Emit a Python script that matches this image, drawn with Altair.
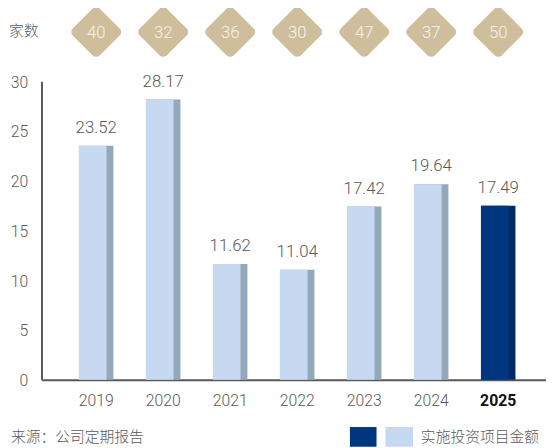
import altair as alt
import pandas as pd

years = ["2019", "2020", "2021", "2022", "2023", "2024", "2025"]
amounts = [23.52, 28.17, 11.62, 11.04, 17.42, 19.64, 17.49]
counts = [40, 32, 36, 30, 47, 37, 50]
kinds = ["past", "past", "past", "past", "past", "past", "current"]

count_title = ["家数"]
source_note = ["来源：公司定期报告"]
legend_label = ["实施投资项目金额"]

df = pd.DataFrame({"year": years, "amount": amounts, "count": counts, "kind": kinds})

GRAY = "#595959"
CJK = "Noto Sans CJK SC"
LAT = "Roboto"
LW = 300

xscale = alt.Scale(domain=years, paddingInner=0, paddingOuter=0.2647, align=0.597)
x = alt.X("year:N", scale=xscale, sort=years,
          axis=alt.Axis(title=None, domain=True, domainColor=GRAY, domainWidth=2,
                        ticks=False, labelAngle=0, labelPadding=13, labelFontSize=16,
                        labelFont=LAT,
                        labelColor={"condition": {"test": "datum.value == '2025'", "value": "#111111"}, "value": GRAY},
                        labelFontWeight={"condition": {"test": "datum.value == '2025'", "value": "bold"}, "value": LW}))
y = alt.Y("amount:Q", scale=alt.Scale(domain=[0, 30], nice=False),
          axis=alt.Axis(title=None, values=[0, 5, 10, 15, 20, 25, 30], domain=True,
                        domainColor=GRAY, domainWidth=2, ticks=False, grid=False,
                        labelFontSize=16, labelColor=GRAY, labelPadding=14, labelOffset=1,
                        labelFont=LAT, labelFontWeight=LW))

base = alt.Chart(df)
is_current = "datum.kind == 'current'"

dark_bar = base.mark_bar(width=35).encode(
    x=x, y=y,
    color=alt.condition(is_current, alt.value("#002A62"), alt.value("#94A8BA")),
)
light_bar = base.mark_bar(width=28, xOffset=-3.5).encode(
    x=x, y=y,
    color=alt.condition(is_current, alt.value("#003580"), alt.value("#C6D9F0")),
)
labels = base.mark_text(baseline="bottom", dy=-9, fontSize=17, color=GRAY, font=LAT,
                        fontWeight=LW).encode(
    x=x, y=y, text=alt.Text("amount:Q", format=".2f")
)

diamonds = base.mark_point(shape="diamond", filled=True, size=1650, fill="#CFBE9C",
                           stroke="#CFBE9C", strokeWidth=10, strokeJoin="round", opacity=1).encode(
    x=x, y=alt.value(-50)
)
diamond_text = base.mark_text(fontSize=17, color="#F7F3EA", baseline="middle", font=LAT,
                              fontWeight=LW).encode(
    x=x, y=alt.value(-48.5), text="count:Q"
)

title_df = pd.DataFrame({"t": count_title})
count_label = alt.Chart(title_df).mark_text(align="left", baseline="middle", fontSize=15,
                                            color=GRAY, font=CJK, fontWeight=LW).encode(
    x=alt.value(-33), y=alt.value(-51), text="t:N"
)

src_df = pd.DataFrame({"t": source_note})
source = alt.Chart(src_df).mark_text(align="left", baseline="middle", fontSize=15,
                                     color=GRAY, font=CJK, fontWeight=LW).encode(
    x=alt.value(-31), y=alt.value(361), text="t:N"
)

leg_df = pd.DataFrame({"t": legend_label})
leg_dark = alt.Chart(leg_df).mark_rect(color="#003580").encode(
    x=alt.value(313), x2=alt.value(340), y=alt.value(351), y2=alt.value(371)
)
leg_light = alt.Chart(leg_df).mark_rect(color="#C6D9F0").encode(
    x=alt.value(349), x2=alt.value(377), y=alt.value(351), y2=alt.value(371)
)
leg_text = alt.Chart(leg_df).mark_text(
    align="left", baseline="middle", fontSize=15, color=GRAY, font=CJK, fontWeight=LW).encode(
    x=alt.value(385), y=alt.value(361), text="t:N"
)

chart = alt.layer(dark_bar, light_bar, labels, diamonds, diamond_text, count_label,
                  source, leg_dark, leg_light, leg_text).properties(
    width=512, height=303,
    padding={"left": 34, "top": 71, "right": 0, "bottom": 66},
    autosize=alt.AutoSizeParams(type="none"),
).configure_view(stroke=None)

chart.save("out.html", embed_options={"renderer": "svg", "actions": False})
